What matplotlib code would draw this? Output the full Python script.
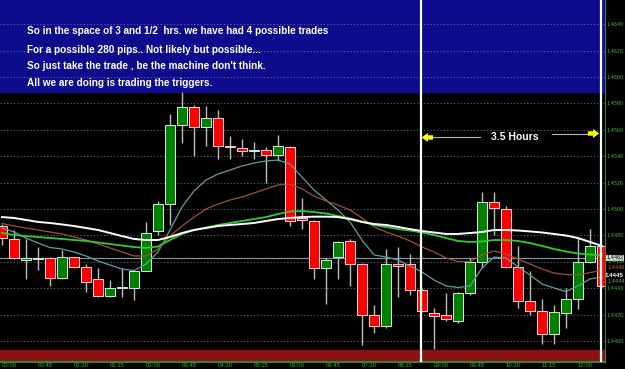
import matplotlib
matplotlib.use("Agg")
import matplotlib.pyplot as plt

# 15 minute bars from 00:00 to 12:30
opens = [1.4487, 1.4477, 1.4461, 1.4462, 1.4463, 1.4448, 1.4464, 1.4456, 1.4447, 1.4434,
         1.4440, 1.4440, 1.4453, 1.4483, 1.4504, 1.4564, 1.4577, 1.4562, 1.4569, 1.4548,
         1.4546, 1.4544, 1.4545, 1.4541, 1.4547, 1.4493, 1.4491, 1.4455, 1.4464, 1.4476,
         1.4458, 1.4420, 1.4411, 1.4458, 1.4458, 1.4439, 1.4421, 1.4420, 1.4415, 1.4436,
         1.4460, 1.4505, 1.4500, 1.4456, 1.4430, 1.4423, 1.4405, 1.4421, 1.4432, 1.4460,
         1.4472]
highs = [1.4489, 1.4484, 1.4477, 1.4471, 1.4464, 1.4469, 1.4464, 1.4458, 1.4455, 1.4446,
         1.4455, 1.4453, 1.4490, 1.4506, 1.4572, 1.4589, 1.4579, 1.4578, 1.4575, 1.4555,
         1.4553, 1.4551, 1.4547, 1.4556, 1.4548, 1.4508, 1.4492, 1.4463, 1.4476, 1.4477,
         1.4459, 1.4427, 1.4470, 1.4471, 1.4466, 1.4440, 1.4425, 1.4436, 1.4437, 1.4463,
         1.4513, 1.4513, 1.4502, 1.4472, 1.4453, 1.4432, 1.4427, 1.4440, 1.4479, 1.4485,
         1.4473]
lows = [1.4473, 1.4462, 1.4447, 1.4454, 1.4442, 1.4447, 1.4455, 1.4437, 1.4433, 1.4433,
        1.4433, 1.4431, 1.4453, 1.4480, 1.4488, 1.4550, 1.4540, 1.4548, 1.4538, 1.4538,
        1.4540, 1.4538, 1.4520, 1.4536, 1.4487, 1.4485, 1.4447, 1.4428, 1.4447, 1.4442,
        1.4397, 1.4406, 1.4410, 1.4433, 1.4435, 1.4422, 1.4394, 1.4415, 1.4414, 1.4435,
        1.4455, 1.4480, 1.4455, 1.4425, 1.4420, 1.4398, 1.4398, 1.4410, 1.4424, 1.4459,
        1.4441]
closes = [1.4478, 1.4463, 1.4463, 1.4463, 1.4448, 1.4464, 1.4456, 1.4445, 1.4434, 1.4440,
          1.4441, 1.4453, 1.4482, 1.4504, 1.4564, 1.4577, 1.4562, 1.4569, 1.4548, 1.4547,
          1.4544, 1.4545, 1.4541, 1.4548, 1.4491, 1.4492, 1.4455, 1.4461, 1.4475, 1.4458,
          1.4420, 1.4411, 1.4458, 1.4457, 1.4439, 1.4423, 1.4419, 1.4417, 1.4436, 1.4460,
          1.4505, 1.4501, 1.4456, 1.4430, 1.4423, 1.4405, 1.4422, 1.4432, 1.4460, 1.4472,
          1.4442]

# moving averages
ma_white = [1.44939, 1.44932, 1.44917, 1.44902, 1.44894, 1.44883, 1.44871, 1.44856, 1.44841, 1.44818,
            1.44795, 1.44773, 1.44765, 1.44765, 1.44788, 1.44818, 1.44841, 1.44856, 1.44871, 1.44879,
            1.44886, 1.44894, 1.44909, 1.44924, 1.44932, 1.44939, 1.44942, 1.44942, 1.44939, 1.44924,
            1.44902, 1.44886, 1.44879, 1.44864, 1.44848, 1.44833, 1.44822, 1.44811, 1.44811, 1.44818,
            1.44826, 1.44841, 1.44841, 1.44837, 1.44830, 1.44822, 1.44811, 1.44799, 1.44780, 1.44750,
            1.44720]
ma_green = [1.44818, 1.44803, 1.44795, 1.44788, 1.44780, 1.44773, 1.44765, 1.44758, 1.44746, 1.44735,
            1.44723, 1.44712, 1.44705, 1.44716, 1.44765, 1.44811, 1.44841, 1.44860, 1.44879, 1.44894,
            1.44909, 1.44924, 1.44939, 1.44962, 1.44981, 1.44985, 1.44977, 1.44966, 1.44947, 1.44928,
            1.44905, 1.44879, 1.44864, 1.44848, 1.44837, 1.44822, 1.44803, 1.44780, 1.44758, 1.44750,
            1.44754, 1.44765, 1.44765, 1.44758, 1.44742, 1.44720, 1.44697, 1.44678, 1.44663, 1.44655,
            1.44648]
ma_brown = [1.44890, 1.44871, 1.44856, 1.44841, 1.44826, 1.44811, 1.44788, 1.44765, 1.44735, 1.44705,
            1.44674, 1.44644, 1.44644, 1.44697, 1.44795, 1.44871, 1.44939, 1.45000, 1.45038, 1.45068,
            1.45091, 1.45121, 1.45152, 1.45182, 1.45189, 1.45152, 1.45098, 1.45061, 1.45030, 1.44992,
            1.44932, 1.44864, 1.44826, 1.44795, 1.44758, 1.44712, 1.44674, 1.44629, 1.44602, 1.44602,
            1.44652, 1.44682, 1.44659, 1.44621, 1.44583, 1.44545, 1.44515, 1.44504, 1.44500, 1.44519,
            1.44534]
ma_cadet = [1.44856, 1.44826, 1.44780, 1.44742, 1.44708, 1.44697, 1.44674, 1.44644, 1.44606, 1.44576,
            1.44545, 1.44534, 1.44583, 1.44674, 1.44841, 1.45015, 1.45136, 1.45220, 1.45265, 1.45295,
            1.45326, 1.45348, 1.45364, 1.45371, 1.45341, 1.45242, 1.45144, 1.45068, 1.44992, 1.44902,
            1.44765, 1.44652, 1.44636, 1.44614, 1.44568, 1.44523, 1.44462, 1.44417, 1.44405, 1.44417,
            1.44553, 1.44636, 1.44629, 1.44561, 1.44500, 1.44432, 1.44402, 1.44375, 1.44417, 1.44470,
            1.44485]

time_labels = ["00:00", "00:45", "01:30", "02:15", "03:00", "03:45", "04:30", "05:15", "06:00",
               "06:45", "07:30", "08:15", "09:00", "09:45", "10:30", "11:15", "12:00"]
price_levels = [1.4400, 1.4420, 1.4440, 1.4460, 1.4480, 1.4500, 1.4520, 1.4540,
                1.4560, 1.4580, 1.4600, 1.4620, 1.4640]
bid_price = 1.4463
note_top = 1.4589      # bottom of the blue note box
zone_bottom = 1.43932  # top of the red band
window_start = 34.92   # bar index of the two white markers
window_end = 49.92

notes = ["So in the space of 3 and 1/2  hrs. we have had 4 possible trades",
         "For a possible 280 pips.. Not likely but possible...",
         "So just take the trade , be the machine don't think.",
         "All we are doing is trading the triggers."]

fig = plt.figure(figsize=(6.25, 3.69), dpi=100, facecolor="black")
ax = fig.add_axes([0, 7 / 369, 605 / 625, 362 / 369])
ax.set_facecolor("black")
ymin, ymax = 1.438409, 1.465833
ax.set_xlim(-1 / 6, 50.25)
ax.set_ylim(ymin, ymax)

# background objects
ax.axhspan(note_top, ymax, color="#0c0c8c", zorder=0)
ax.axhspan(ymin, zone_bottom, color="#8a1212", zorder=0)

for p in price_levels:
    ax.axhline(p, color="#8a8a8a", lw=0.6, ls=(0, (1.5, 2.5)), alpha=0.8, zorder=1)
ax.axhline(bid_price, color="#7aa0a6", lw=0.8, zorder=1.5)

# candles
n = len(opens)
for i in range(n):
    o, h, l, c = opens[i], highs[i], lows[i], closes[i]
    up = c >= o
    ax.vlines(i, l, h, color="#bdbdbd", lw=1.0, zorder=3)
    body = max(abs(c - o), 0.00004)
    ax.bar(i, body, bottom=min(o, c), width=0.86,
           color="#008000" if up else "#ff0000",
           edgecolor="#d8ecd8" if up else "#ffd0d0", linewidth=0.7, zorder=4)

# moving averages on top of candles
xs = list(range(n))
ax.plot(xs, ma_cadet, color="#5f9ea0", lw=0.9, zorder=5)
ax.plot(xs, ma_brown, color="#a0522d", lw=0.9, zorder=5)
ax.plot(xs, ma_green, color="#2ecc2e", lw=1.3, zorder=5)
ax.plot(xs, ma_white, color="white", lw=1.4, zorder=5)

# 3.5 hour window
ax.axvline(window_start, color="white", lw=1.6, zorder=7)
ax.axvline(window_end, color="white", lw=1.6, zorder=7)
arrow = dict(arrowstyle="simple,head_length=0.45,head_width=0.65,tail_width=0.32",
             fc="#ffff00", ec="#ffff00", lw=0, shrinkA=0, shrinkB=0)
ax.annotate("", xy=(window_start + 0.05, 1.45542), xytext=(window_start + 1.0, 1.45542),
            arrowprops=arrow, zorder=8)
ax.annotate("", xy=(window_end - 0.15, 1.45572), xytext=(window_end - 1.1, 1.45572),
            arrowprops=arrow, zorder=8)
ax.plot([35.9, 39.8], [1.45542, 1.45542], color="#b8b89a", lw=0.8, zorder=6)
ax.plot([45.83, 48.83], [1.45570, 1.45570], color="#b8b89a", lw=0.8, zorder=6)
ax.text(42.75, 1.45545, "3.5 Hours", color="white", fontsize=7.5, fontweight="bold",
        family="Liberation Sans", ha="center", va="center", zorder=8)

# note text in the blue box
for k, line in enumerate(notes):
    ypix = [31, 50, 66, 83][k]
    ax.text(27 / 605, 1 - ypix / 362, line, transform=ax.transAxes, color="white",
            fontsize=7.2, fontweight="bold", family="Liberation Sans", va="center", zorder=8)

# axes styling
for side in ["top", "left"]:
    ax.spines[side].set_visible(False)
ax.spines["bottom"].set_color("#2e8b2e")
ax.spines["bottom"].set_linewidth(1.4)
ax.spines["right"].set_color("#4a7a4a")
ax.spines["right"].set_linewidth(0.8)

ax.set_xticks(range(0, n, 3))
ax.set_xticklabels(time_labels, ha="left")
ax.tick_params(axis="x", length=0, pad=1, labelsize=4.3, labelcolor="#3cb043")
ax.yaxis.tick_right()
ax.set_yticks(price_levels)
ax.set_yticklabels(["" if p == 1.4460 else f"{p:.4f}" for p in price_levels])
ax.tick_params(axis="y", length=0, pad=1.5, labelsize=4, labelcolor="#3cb043")
for lab in ax.get_xticklabels() + ax.get_yticklabels():
    lab.set_family("Liberation Sans")

# indicator value labels on the price scale
tr = ax.get_yaxis_transform()
ax.text(1.002, bid_price, "1.4462", transform=tr, fontsize=4, color="black", family="Liberation Sans",
        va="center", clip_on=False, bbox=dict(fc="#d8d8d8", ec="none", pad=0.3))
ax.text(1.004, 1.44601, "1.4456", transform=tr, fontsize=4, color="#2ecc2e", family="Liberation Sans",
        va="center", clip_on=False)
ax.text(1.004, 1.44555, "1.4446", transform=tr, fontsize=4, color="#c0602d", family="Liberation Sans",
        va="center", clip_on=False)
ax.text(1.0, 1.44498, "1.4445", transform=tr, fontsize=4.5, color="white", fontweight="bold",
        family="Liberation Sans", va="center", clip_on=False)
ax.text(1.004, 1.44449, "1.4444", transform=tr, fontsize=4, color="#5f9ea0", family="Liberation Sans",
        va="center", clip_on=False)

fig.savefig("out.png", dpi=100, facecolor="black")
